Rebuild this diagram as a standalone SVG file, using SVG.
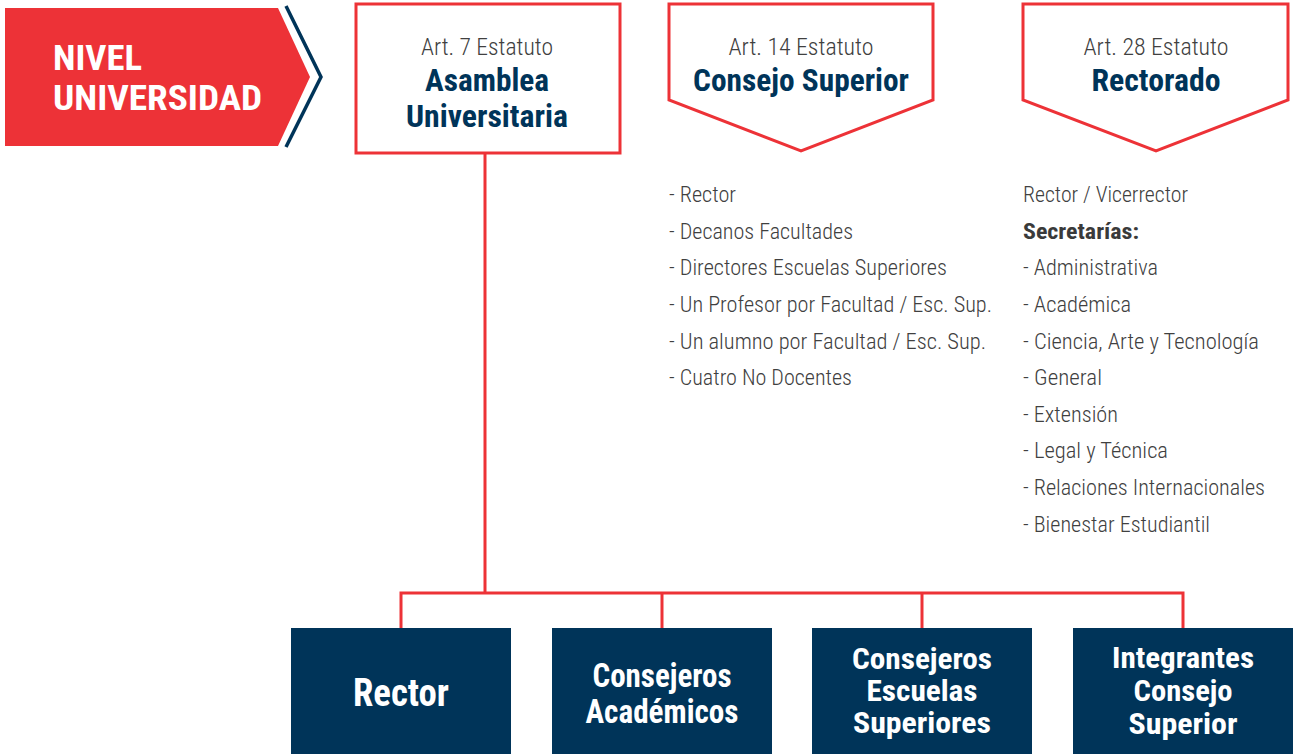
<svg xmlns="http://www.w3.org/2000/svg" width="1293" height="754" viewBox="0 0 1293 754">
<style>
.f{font-family:"Liberation Sans Narrow","Roboto Condensed","DejaVu Sans Condensed",sans-serif;font-stretch:condensed}
.box{fill:#fff;stroke:#ED3237;stroke-width:3}
.art{font-size:24px;font-weight:300;fill:#404040;text-anchor:middle}
.ttl{font-size:32px;font-weight:bold;fill:#003459;text-anchor:middle}
.li{font-size:22px;font-weight:300;fill:#404040}
.lb{font-size:22px;fill:#3a3a3a;font-weight:bold}
.nb{fill:#003459}
.bt{font-weight:bold;fill:#fff;text-anchor:middle}
.con{fill:none;stroke:#ED3237;stroke-width:3}
</style>
<rect width="1293" height="754" fill="#fff"/>
<g id="banner">
<polygon points="5,8 278,8 310,77 278,146 5,146" fill="#ED3237"/>
<polyline points="286,6 321,77 286,147" fill="none" stroke="#003459" stroke-width="3.5"/>
<text class="f" x="53" y="70" font-size="35" font-weight="bold" fill="#fff" textLength="89" lengthAdjust="spacingAndGlyphs">NIVEL</text>
<text class="f" x="53" y="110" font-size="35" font-weight="bold" fill="#fff" textLength="209" lengthAdjust="spacingAndGlyphs">UNIVERSIDAD</text>
</g>
<g id="connectors">
<polyline class="con" points="485,153 485,593"/>
<polyline class="con" points="401,628 401,593 1183,593 1183,628"/>
<line class="con" x1="662" y1="593" x2="662" y2="628"/>
<line class="con" x1="922" y1="593" x2="922" y2="628"/>
</g>
<g id="asamblea">
<rect class="box" x="356" y="4" width="264" height="149"/>
<text class="f art" x="487" y="55" textLength="132" lengthAdjust="spacingAndGlyphs">Art. 7 Estatuto</text>
<text class="f ttl" x="487" y="91" textLength="124" lengthAdjust="spacingAndGlyphs">Asamblea</text>
<text class="f ttl" x="487" y="127" textLength="162" lengthAdjust="spacingAndGlyphs">Universitaria</text>
</g>
<g id="consejo-superior">
<polygon class="box" points="669,4 933,4 933,100 801,151 669,100"/>
<text class="f art" x="801" y="55" textLength="145" lengthAdjust="spacingAndGlyphs">Art. 14 Estatuto</text>
<text class="f ttl" x="801" y="91" textLength="216" lengthAdjust="spacingAndGlyphs">Consejo Superior</text>
</g>
<g id="rectorado">
<polygon class="box" points="1023,4 1288,4 1288,100 1156,151 1023,100"/>
<text class="f art" x="1156" y="55" textLength="145" lengthAdjust="spacingAndGlyphs">Art. 28 Estatuto</text>
<text class="f ttl" x="1156" y="91" textLength="129" lengthAdjust="spacingAndGlyphs">Rectorado</text>
</g>
<g id="consejo-list">
<text class="f li" x="669" y="202" textLength="67" lengthAdjust="spacingAndGlyphs">- Rector</text>
<text class="f li" x="669" y="239" textLength="184" lengthAdjust="spacingAndGlyphs">- Decanos Facultades</text>
<text class="f li" x="669" y="275" textLength="278" lengthAdjust="spacingAndGlyphs">- Directores Escuelas Superiores</text>
<text class="f li" x="669" y="312" textLength="323" lengthAdjust="spacingAndGlyphs">- Un Profesor por Facultad / Esc. Sup.</text>
<text class="f li" x="669" y="349" textLength="317" lengthAdjust="spacingAndGlyphs">- Un alumno por Facultad / Esc. Sup.</text>
<text class="f li" x="669" y="385" textLength="183" lengthAdjust="spacingAndGlyphs">- Cuatro No Docentes</text>
</g>
<g id="rectorado-list">
<text class="f li" x="1023" y="202" textLength="165" lengthAdjust="spacingAndGlyphs">Rector / Vicerrector</text>
<text class="f lb" x="1023" y="239" textLength="116" lengthAdjust="spacingAndGlyphs">Secretarías:</text>
<text class="f li" x="1023" y="275" textLength="135" lengthAdjust="spacingAndGlyphs">- Administrativa</text>
<text class="f li" x="1023" y="312" textLength="108" lengthAdjust="spacingAndGlyphs">- Académica</text>
<text class="f li" x="1023" y="349" textLength="236" lengthAdjust="spacingAndGlyphs">- Ciencia, Arte y Tecnología</text>
<text class="f li" x="1023" y="385" textLength="79" lengthAdjust="spacingAndGlyphs">- General</text>
<text class="f li" x="1023" y="422" textLength="95" lengthAdjust="spacingAndGlyphs">- Extensión</text>
<text class="f li" x="1023" y="458" textLength="145" lengthAdjust="spacingAndGlyphs">- Legal y Técnica</text>
<text class="f li" x="1023" y="495" textLength="242" lengthAdjust="spacingAndGlyphs">- Relaciones Internacionales</text>
<text class="f li" x="1023" y="532" textLength="187" lengthAdjust="spacingAndGlyphs">- Bienestar Estudiantil</text>
</g>
<g id="rector">
<rect class="nb" x="291" y="628" width="220" height="126"/>
<text class="f bt" x="401" y="706" font-size="38" textLength="96" lengthAdjust="spacingAndGlyphs">Rector</text>
</g>
<g id="consejeros-academicos">
<rect class="nb" x="552" y="628" width="220" height="126"/>
<text class="f bt" x="662" y="687" font-size="33" textLength="139" lengthAdjust="spacingAndGlyphs">Consejeros</text>
<text class="f bt" x="662" y="723" font-size="33" textLength="153" lengthAdjust="spacingAndGlyphs">Académicos</text>
</g>
<g id="consejeros-escuelas">
<rect class="nb" x="812" y="628" width="220" height="126"/>
<text class="f bt" x="922" y="669" font-size="29" textLength="140" lengthAdjust="spacingAndGlyphs">Consejeros</text>
<text class="f bt" x="922" y="701" font-size="29" textLength="111" lengthAdjust="spacingAndGlyphs">Escuelas</text>
<text class="f bt" x="922" y="733" font-size="29" textLength="138" lengthAdjust="spacingAndGlyphs">Superiores</text>
</g>
<g id="integrantes">
<rect class="nb" x="1073" y="628" width="220" height="126"/>
<text class="f bt" x="1183" y="668" font-size="29" textLength="142" lengthAdjust="spacingAndGlyphs">Integrantes</text>
<text class="f bt" x="1183" y="701" font-size="29" textLength="99" lengthAdjust="spacingAndGlyphs">Consejo</text>
<text class="f bt" x="1183" y="734" font-size="29" textLength="109" lengthAdjust="spacingAndGlyphs">Superior</text>
</g>
</svg>
